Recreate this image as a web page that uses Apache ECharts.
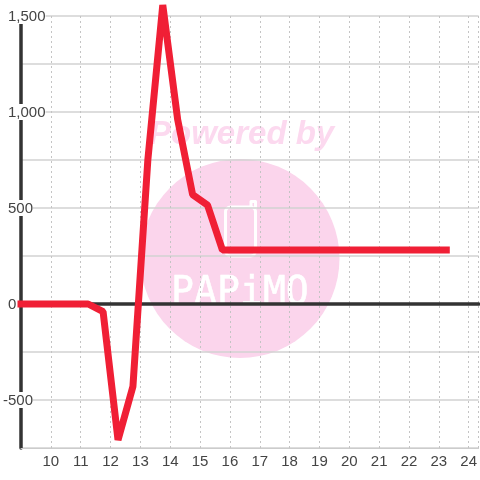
<!DOCTYPE html>
<html><head><meta charset="utf-8">
<style>html,body{margin:0;padding:0;background:#fff}#c{width:480px;height:480px}</style>
<script src="https://cdn.jsdelivr.net/npm/echarts@6/dist/echarts.min.js"></script>
</head><body><div id="c"></div>
<script>
const hours = [9,9.25,9.75,10.25,10.75,11.25,11.75,12.25,12.75,13.25,13.75,14.25,14.75,15.25,15.75,16.25,16.75,17.25,17.75,18.25,18.75,19.25,19.75,20.25,20.75,21.25,21.75,22.25,22.75,23.25];
const values = [0,0,0,0,0,0,-40,-708,-430,750,1557,960,570,515,281,281,281,281,281,281,281,281,281,281,281,281,281,281,281,281];
const yLabeled = [-500,0,500,1000,1500];
const xLabeled = [10,11,12,13,14,15,16,17,18,19,20,21,22,23,24];
const font = '"Liberation Sans"';
const chart = echarts.init(document.getElementById('c'), null, {renderer:'canvas'});
const pink = '#fbd5ec';
const xBase = {type:'value', min:9, max:9+460/30, interval:1, gridIndex:0};
chart.setOption({
  animation:false,
  backgroundColor:'#fff',
  grid:{left:20,top:16,width:460,height:432,containLabel:false},
  graphic:{elements:[
    {type:'circle',z:-5,silent:true,shape:{cx:240,cy:258.5,r:99.5},style:{fill:pink}},
    {type:'text',z:-5,silent:true,x:149,y:118,style:{text:'Powered by',fill:'#fcd9ef',font:'italic bold 33px '+font}},
    {type:'rect',z:-4,silent:true,shape:{x:225.5,y:207,width:30,height:49,r:5},style:{fill:'none',stroke:'#fff',lineWidth:3}},
    {type:'polyline',z:-4,silent:true,shape:{points:[[255.5,209],[255.5,201.5],[251,201.5],[251,208]]},style:{fill:'none',stroke:'#fff',lineWidth:3,lineJoin:'round'}},
    {type:'text',z:-4,silent:true,x:171,y:274,scaleX:1.06,scaleY:1.08,style:{text:'PAPiMO',fill:'#fff',stroke:'#fff',lineWidth:0.5,font:'36px "DejaVu Sans Mono"'}}
  ]},
  xAxis:[
    Object.assign({},xBase,{position:'bottom',
      axisLine:{show:true,onZero:false,lineStyle:{color:'#ccc',width:1}},
      axisTick:{show:false},
      axisLabel:{show:true,margin:6,color:'#444',fontFamily:font,fontSize:15,showMaxLabel:false,showMinLabel:false,hideOverlap:false,
        formatter:v=>xLabeled.includes(v)?String(v):''},
      splitLine:{show:true,lineStyle:{color:'#c4c4c4',width:1,type:[2,3]}}
    }),
    Object.assign({},xBase,{position:'bottom',
      axisLine:{show:true,onZero:true,lineStyle:{color:'#333',width:3.5}},
      axisTick:{show:false},axisLabel:{show:false},splitLine:{show:false}
    })
  ],
  yAxis:{type:'value',min:-750,max:1500,interval:250,position:'left',
    axisLine:{show:true,onZero:false,lineStyle:{color:'#333',width:3.5}},
    axisTick:{show:false},
    axisLabel:{show:true,align:'left',margin:18,color:'#444',fontFamily:font,fontSize:15,backgroundColor:'#fff',
      showMinLabel:true,showMaxLabel:true,hideOverlap:false,
      rich:{s:{width:5,height:1},t:{color:'#444',fontFamily:font,fontSize:15,lineHeight:16,padding:[2,0,0,0]}},
      formatter:v=>{
        if(!yLabeled.includes(v)) return '';
        const t=v.toLocaleString('en-US');
        return v<0?'{t|'+t+'}':'{s|}{t|'+t+'}';
      }},
    splitLine:{show:true,lineStyle:{color:'#d2d2d2',width:1.5}}
  },
  series:[{type:'line',xAxisIndex:0,yAxisIndex:0,clip:false,showSymbol:false,symbol:'none',z:5,
    data:hours.map((h,i)=>[h,values[i]]),
    lineStyle:{color:'#f01f35',width:7,cap:'square',join:'bevel'}
  }]
});
</script></body></html>
